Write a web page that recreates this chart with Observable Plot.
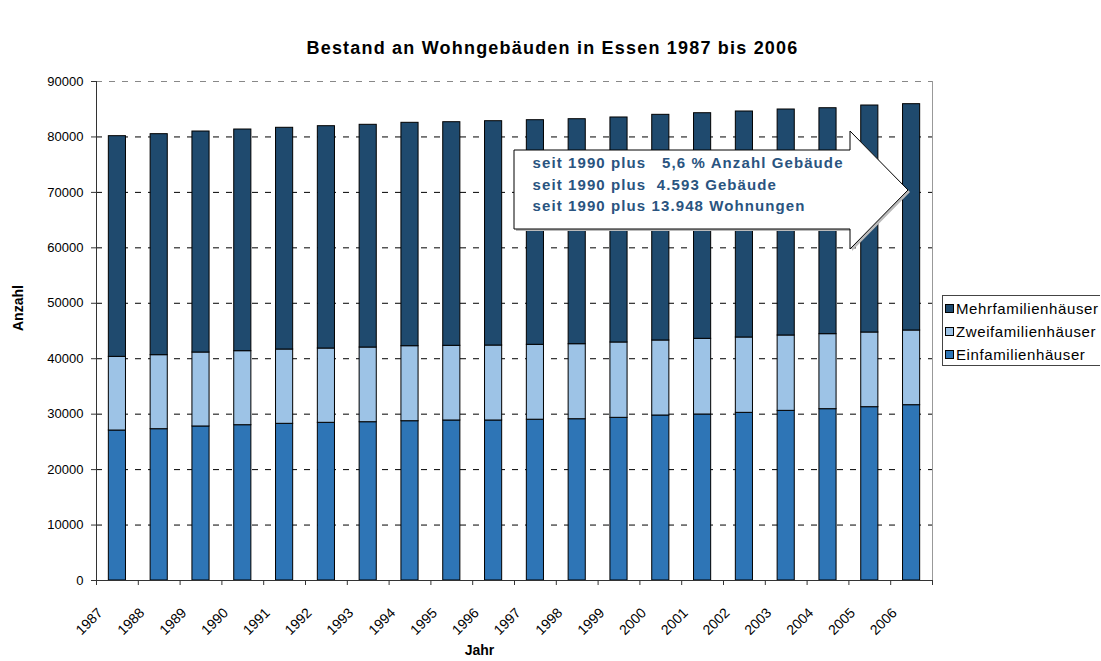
<!DOCTYPE html>
<html><head><meta charset="utf-8">
<script src="https://cdn.jsdelivr.net/npm/d3@7"></script>
<script src="https://cdn.jsdelivr.net/npm/@observablehq/plot@0.6"></script>
<style>
body{margin:0;background:#fff;font-family:"Liberation Sans",Arial,sans-serif;}
#wrap{position:relative;width:1101px;height:661px;overflow:hidden;background:#fff}
#title{height:60px;box-sizing:border-box;padding-top:38px;text-align:center;font-weight:bold;font-size:18px;letter-spacing:1.2px;line-height:20px;padding-left:4px;color:#000}
#legend{position:absolute;left:942px;top:295px;width:158px;height:71px;border:1px solid #444;border-right:none;box-sizing:border-box;font-size:15px;letter-spacing:0.6px;padding-top:1px;white-space:nowrap}
#legend .row{display:flex;align-items:center;height:23px;padding-left:2px}
#legend .sw{width:7px;height:7px;border:1px solid #000;margin-right:2px;flex:none}
#callout{position:absolute;left:0;top:0;pointer-events:none}
</style></head><body>
<div id="wrap">
<div id="title">Bestand an Wohngebäuden in Essen 1987 bis 2006</div>
<div id="chart"></div>
<div id="legend"></div>
</div>
<script>
const years = [1987,1988,1989,1990,1991,1992,1993,1994,1995,1996,1997,1998,1999,2000,2001,2002,2003,2004,2005,2006];
const einfamilien = [27050,27290,27780,28010,28260,28440,28550,28730,28860,28860,29000,29090,29340,29760,29940,30240,30600,30900,31260,31620];
const zweifamilien = [13290,13350,13340,13350,13400,13400,13470,13530,13470,13520,13510,13530,13590,13530,13650,13590,13590,13530,13470,13470];
const mehrfamilien = [39800,39860,39860,39980,39990,40100,40170,40290,40330,40460,40510,40580,40580,40700,40690,40760,40760,40750,40940,40820];
const seriesNames = ["Mehrfamilienhäuser","Zweifamilienhäuser","Einfamilienhäuser"];
const seriesColors = ["#1F4A6E","#9DC3E6","#2E75B6"];
const stackOrder = ["Einfamilienhäuser","Zweifamilienhäuser","Mehrfamilienhäuser"];
const yTicks = [0,10000,20000,30000,40000,50000,60000,70000,80000,90000];
const chartTitle = "Bestand an Wohngebäuden in Essen 1987 bis 2006";
const yLabel = "Anzahl";
const xLabel = "Jahr";
const calloutLines = ["seit 1990 plus   5,6 % Anzahl Gebäude","seit 1990 plus  4.593 Gebäude","seit 1990 plus 13.948 Wohnungen"];

const W = 1101, H = 601, mL = 96, mR = 169, mT = 21, mB = 81;
const step = (W - mL - mR) / years.length;
const font = '"Liberation Sans", Arial, sans-serif';

const data = [];
years.forEach((yr, i) => {
  data.push({year: yr, series: "Einfamilienhäuser", value: einfamilien[i]});
  data.push({year: yr, series: "Zweifamilienhäuser", value: zweifamilien[i]});
  data.push({year: yr, series: "Mehrfamilienhäuser", value: mehrfamilien[i]});
});

const chart = Plot.plot({
  width: W, height: H, marginLeft: mL, marginRight: mR, marginTop: mT, marginBottom: mB,
  style: {fontFamily: font, fontSize: "13px", color: "#000", background: "white", overflow: "visible"},
  x: {type: "band", domain: years, paddingInner: 0.59, paddingOuter: 0.295, round: false, axis: null},
  y: {domain: [0, 90000], axis: null},
  color: {domain: seriesNames, range: seriesColors},
  marks: [
    Plot.ruleY(yTicks.filter(v => v > 0 && v < 90000), {stroke: "#000", strokeDasharray: "6,7"}),
    Plot.ruleY([90000], {stroke: "#888", strokeDasharray: "6,7"}),
    Plot.ruleX([years[years.length - 1]], {dx: step / 2, stroke: "#999"}),
    Plot.barY(data, {x: "year", y: "value", fill: "series", stroke: "#000", strokeWidth: 1, order: stackOrder}),
    Plot.ruleY([0], {stroke: "#333"}),
    Plot.ruleX([years[0]], {dx: -step / 2, stroke: "#333"}),
    Plot.ruleX(years, {x: d => d, y1: () => 0, y2: () => 0, insetBottom: -5, dx: -step / 2, stroke: "#333"}),
    Plot.ruleX([years[years.length - 1]], {x: d => d, y1: () => 0, y2: () => 0, insetBottom: -5, dx: step / 2, stroke: "#333"}),
    Plot.axisY({ticks: yTicks, tickSize: 5, tickPadding: 8, tickFormat: d => String(d), fontSize: 13, label: null, stroke: "#333"}),
    Plot.text(years, {x: d => d, y: () => 0, text: d => String(d), rotate: -45, textAnchor: "end", dx: -17, dy: 30, fontSize: 14, letterSpacing: 0.6}),
    Plot.text([yLabel], {frameAnchor: "left", rotate: -90, dx: -78, fontWeight: "bold", fontSize: 14}),
    Plot.text([xLabel], {frameAnchor: "bottom", dx: -35, dy: 74, fontWeight: "bold", fontSize: 14})
  ]
});
document.getElementById("chart").appendChild(chart);

// legend
const legend = document.getElementById("legend");
seriesNames.forEach((name, i) => {
  const row = document.createElement("div");
  row.className = "row";
  const sw = document.createElement("span");
  sw.className = "sw";
  sw.style.background = seriesColors[i];
  const t = document.createElement("span");
  t.textContent = name;
  row.appendChild(sw); row.appendChild(t);
  legend.appendChild(row);
});

// callout arrow overlay
const ns = "http://www.w3.org/2000/svg";
const svg = document.createElementNS(ns, "svg");
svg.setAttribute("id", "callout");
svg.setAttribute("width", W); svg.setAttribute("height", 661);
const pts = [[514,150],[850,150],[850,131],[908,190],[850,249],[850,229],[514,229]];
const shadow = document.createElementNS(ns, "polygon");
shadow.setAttribute("points", pts.map(p => (p[0]+2)+","+(p[1]+2)).join(" "));
shadow.setAttribute("fill", "#bbb");
svg.appendChild(shadow);
const poly = document.createElementNS(ns, "polygon");
poly.setAttribute("points", pts.map(p => p.join(",")).join(" "));
poly.setAttribute("fill", "#fff"); poly.setAttribute("stroke", "#000"); poly.setAttribute("stroke-width", "1");
svg.appendChild(poly);
calloutLines.forEach((line, i) => {
  const t = document.createElementNS(ns, "text");
  t.setAttribute("x", 532.5);
  t.setAttribute("y", 168 + i * 21.5);
  t.setAttribute("fill", "#2A5480");
  t.setAttribute("font-family", font);
  t.setAttribute("font-weight", "bold");
  t.setAttribute("font-size", "15");
  t.setAttribute("letter-spacing", "1.1");
  t.setAttribute("style", "white-space:pre");
  t.textContent = line;
  svg.appendChild(t);
});
document.getElementById("wrap").appendChild(svg);
</script>
</body></html>
